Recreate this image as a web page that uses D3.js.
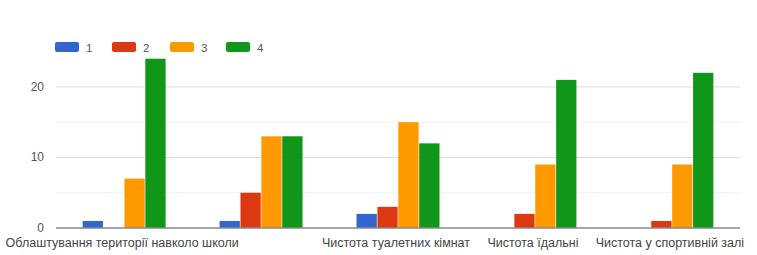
<!DOCTYPE html>
<html>
<head>
<meta charset="utf-8">
<script src="https://cdnjs.cloudflare.com/ajax/libs/d3/7.8.5/d3.min.js"></script>
<style>
  body { margin: 0; background: #fff; }
  text { font-family: "Liberation Sans", Arial, sans-serif; }
</style>
</head>
<body>
<div id="chart"></div>
<script>
// categories (2nd label is not shown on the original axis)
const categories = [
  "Облаштування території навколо школи",
  "",
  "Чистота туалетних кімнат",
  "Чистота їдальні",
  "Чистота у спортивній залі"
];
const seriesNames = ["1", "2", "3", "4"];
const s1 = [1, 1, 2, 0, 0];
const s2 = [0, 5, 3, 2, 1];
const s3 = [7, 13, 15, 9, 9];
const s4 = [24, 13, 12, 21, 22];
const yTicks = [0, 10, 20];
const yMinor = [5, 15];

const colors = ["#3366cc", "#dc3912", "#ff9900", "#109618"];
const series = [s1, s2, s3, s4];

const W = 757, H = 255;
const margin = { top: 58, right: 17, bottom: 27, left: 56 };
const width = W - margin.left - margin.right;
const height = H - margin.top - margin.bottom;

const svg = d3.select('#chart').append('svg')
  .attr('width', W)
  .attr('height', H);

const chart = svg.append('g')
  .attr('transform', `translate(${margin.left}, ${margin.top})`);

const x0 = d3.scaleBand().domain(d3.range(categories.length)).range([0, width]).paddingInner(0.385).paddingOuter(0.19);
const x1 = d3.scaleBand().domain(d3.range(series.length)).range([0, x0.bandwidth()]).padding(0.03);
const y = d3.scaleLinear().domain([0, 24.1]).range([height, 0]);

// gridlines
chart.selectAll('.minor').data(yMinor).enter().append('line')
  .attr('x1', 0).attr('x2', width)
  .attr('y1', d => y(d)).attr('y2', d => y(d))
  .attr('stroke', '#f1f1f1');
chart.selectAll('.grid').data(yTicks.filter(d => d > 0)).enter().append('line')
  .attr('x1', 0).attr('x2', width)
  .attr('y1', d => y(d)).attr('y2', d => y(d))
  .attr('stroke', '#dcdcdc');

// y tick labels
chart.selectAll('.ylab').data(yTicks).enter().append('text')
  .attr('x', -12).attr('y', d => y(d) + 4)
  .attr('text-anchor', 'end')
  .attr('font-size', 12)
  .attr('fill', '#555')
  .text(d => d);

// bars
const groups = chart.selectAll('.grp').data(categories.map((c, i) => i)).enter().append('g')
  .attr('transform', i => `translate(${x0(i)},0)`);
groups.selectAll('rect').data(i => series.map((s, k) => ({ k, v: s[i] }))).enter()
  .filter(d => d.v > 0)
  .append('rect')
  .attr('x', d => x1(d.k))
  .attr('y', d => y(d.v))
  .attr('width', x1.bandwidth())
  .attr('height', d => height - y(d.v))
  .attr('fill', d => colors[d.k]);

// baseline
chart.append('line')
  .attr('x1', 0).attr('x2', width)
  .attr('y1', y(0)).attr('y2', y(0))
  .attr('stroke', '#888').attr('stroke-width', 1.5);

// x labels
chart.selectAll('.xlab').data(categories.map((c, i) => i)).enter().append('text')
  .attr('x', i => x0(i) + x0.bandwidth() / 2 - 2)
  .attr('y', height + 19)
  .attr('text-anchor', 'middle')
  .attr('font-size', 12.5)
  .attr('fill', '#444')
  .text(i => categories[i]);

// legend
const legend = svg.append('g').attr('transform', 'translate(55, 42)');
const lx = [0, 57, 115, 171];
seriesNames.forEach((name, k) => {
  legend.append('rect')
    .attr('x', lx[k]).attr('y', 0)
    .attr('width', 24).attr('height', 10)
    .attr('rx', 2)
    .attr('fill', colors[k]);
  legend.append('text')
    .attr('x', lx[k] + 31).attr('y', 9.5)
    .attr('font-size', 11.5)
    .attr('fill', '#555')
    .text(name);
});
</script>
</body>
</html>
